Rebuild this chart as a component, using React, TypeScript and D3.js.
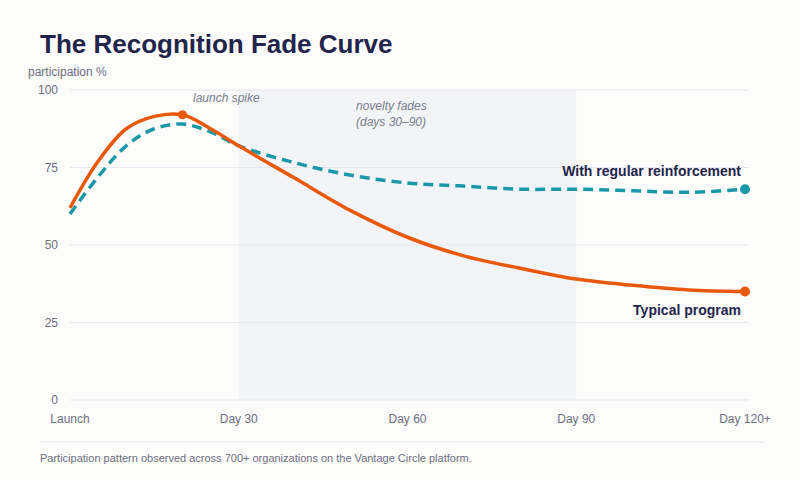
import React, { useEffect, useRef } from 'react';
import * as d3 from 'd3';

// days since launch
const days = [0, 5, 10, 15, 20, 25, 30, 40, 50, 60, 70, 80, 90, 100, 110, 120];
const typicalProgram = [62, 77, 87.5, 91.5, 92, 87.5, 82, 71.5, 61, 52.5, 46.5, 42.5, 39, 37, 35.5, 35];
const withReinforcement = [60, 72, 82, 87.5, 89, 86.5, 82, 76.5, 72.5, 70, 69, 68, 68, 67.5, 67, 68];

const xTicks = [0, 30, 60, 90, 120];
const xTickLabels = ['Launch', 'Day 30', 'Day 60', 'Day 90', 'Day 120+'];
const yTicks = [0, 25, 50, 75, 100];

const ORANGE = '#e8590c';
const TEAL = '#1b98a8';
const NAVY = '#23244b';
const GRAY = '#6c6e82';

const App = () => {
  const ref = useRef<SVGSVGElement>(null);

  useEffect(() => {
    const width = 800;
    const height = 480;
    const svg = d3.select(ref.current);
    svg.selectAll('*').remove();

    svg.append('rect').attr('width', width).attr('height', height).attr('fill', '#fcfcfb');

    const x = d3.scaleLinear().domain([0, 120]).range([70, 745]);
    const y = d3.scaleLinear().domain([0, 100]).range([400, 90]);

    const font = 'Liberation Sans, Arial, Helvetica, sans-serif';

    // title
    svg.append('text')
      .attr('x', 40).attr('y', 53)
      .style('font-family', font).style('font-size', '26px').style('font-weight', 'bold')
      .attr('fill', NAVY)
      .text('The Recognition Fade Curve');

    svg.append('text')
      .attr('x', 28).attr('y', 76)
      .style('font-family', font).style('font-size', '12px')
      .attr('fill', GRAY)
      .text('participation %');

    // novelty band
    svg.append('rect')
      .attr('x', x(30)).attr('y', y(100))
      .attr('width', x(90) - x(30)).attr('height', y(0) - y(100))
      .attr('fill', '#f3f4f8');

    // gridlines + y labels
    yTicks.forEach(t => {
      svg.append('line')
        .attr('x1', x(0)).attr('x2', x(120) + 4)
        .attr('y1', y(t)).attr('y2', y(t))
        .attr('stroke', '#e6e7ef').attr('stroke-width', 1);
      svg.append('text')
        .attr('x', 58).attr('y', y(t) + 4)
        .attr('text-anchor', 'end')
        .style('font-family', font).style('font-size', '12px')
        .attr('fill', GRAY)
        .text(t);
    });

    // x labels
    xTicks.forEach((t, i) => {
      svg.append('text')
        .attr('x', x(t)).attr('y', 423)
        .attr('text-anchor', 'middle')
        .style('font-family', font).style('font-size', '12px')
        .attr('fill', GRAY)
        .text(xTickLabels[i]);
    });

    // annotations
    const note = (tx: number, ty: number, s: string) =>
      svg.append('text')
        .attr('x', tx).attr('y', ty)
        .style('font-family', font).style('font-size', '12px').style('font-style', 'italic')
        .attr('fill', '#7a7c8e')
        .text(s);
    note(193, 102, 'launch spike');
    note(356, 110, 'novelty fades');
    note(356, 126, '(days 30–90)');

    const line = d3.line<number>()
      .x((_, i) => x(days[i]))
      .y(d => y(d))
      .curve(d3.curveCatmullRom.alpha(0.5));

    svg.append('path')
      .datum(withReinforcement)
      .attr('d', line)
      .attr('fill', 'none')
      .attr('stroke', TEAL)
      .attr('stroke-width', 3.5)
      .attr('stroke-dasharray', '10,6');

    svg.append('path')
      .datum(typicalProgram)
      .attr('d', line)
      .attr('fill', 'none')
      .attr('stroke', ORANGE)
      .attr('stroke-width', 3.5);

    // markers
    const last = days.length - 1;
    svg.append('circle').attr('cx', x(days[4])).attr('cy', y(typicalProgram[4])).attr('r', 4.5).attr('fill', ORANGE);
    svg.append('circle').attr('cx', x(days[last])).attr('cy', y(typicalProgram[last])).attr('r', 5).attr('fill', ORANGE);
    svg.append('circle').attr('cx', x(days[last])).attr('cy', y(withReinforcement[last])).attr('r', 5).attr('fill', TEAL);

    // series labels
    const label = (ty: number, s: string) =>
      svg.append('text')
        .attr('x', 741).attr('y', ty)
        .attr('text-anchor', 'end')
        .style('font-family', font).style('font-size', '14px').style('font-weight', 'bold')
        .attr('fill', NAVY)
        .text(s);
    label(176, 'With regular reinforcement');
    label(315, 'Typical program');

    // footer
    svg.append('line')
      .attr('x1', 40).attr('x2', 765)
      .attr('y1', 442).attr('y2', 442)
      .attr('stroke', '#e6e7ef');
    svg.append('text')
      .attr('x', 40).attr('y', 462)
      .style('font-family', font).style('font-size', '11px')
      .attr('fill', GRAY)
      .text('Participation pattern observed across 700+ organizations on the Vantage Circle platform.');
  }, []);

  return (
    <svg ref={ref} width={800} height={480} style={{ position: 'absolute', left: 0, top: 0, display: 'block' }} />
  );
};

export default App;
